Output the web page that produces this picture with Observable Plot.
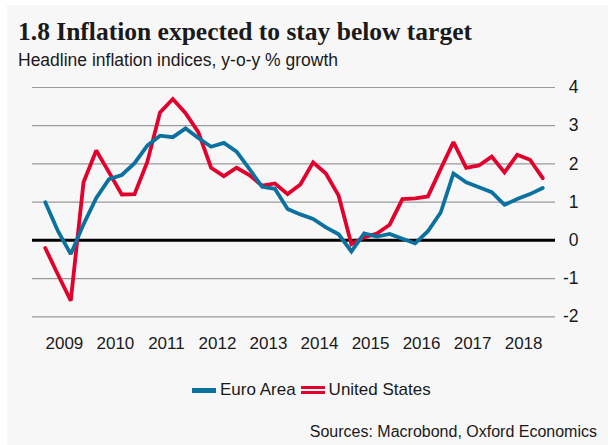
<!DOCTYPE html>
<html>
<head>
<meta charset="utf-8">
<script src="https://cdn.jsdelivr.net/npm/d3@7"></script>
<script src="https://cdn.jsdelivr.net/npm/@observablehq/plot@0.6"></script>
<style>
  html, body { margin: 0; padding: 0; background: #ffffff; }
  body { width: 608px; height: 445px; position: relative; overflow: hidden; font-family: "Liberation Sans", Arial, sans-serif; color: #1a1a1a; }
  #panel { position: absolute; left: 7px; top: 5px; right: 0; bottom: 0; background: #f7f7f7; }
  #title { position: absolute; left: 18px; top: 19px; font-family: "Liberation Serif", "DejaVu Serif", serif; font-weight: 700; font-size: 25.5px; line-height: 25.5px; white-space: nowrap; color: #1a1a1a; }
  #subtitle { position: absolute; left: 18px; top: 52px; font-size: 17.5px; line-height: 17.5px; white-space: nowrap; }
  #chart { position: absolute; left: 0; top: 75px; }
  #chart svg { overflow: visible; background: transparent; }
  #legend { position: absolute; left: 192px; top: 380px; height: 20px; display: flex; align-items: center; font-size: 17px; white-space: nowrap; }
  .sw { display: inline-block; width: 24px; margin-right: 4px; }
  .sw-blue { height: 5px; background: #0b72a0; }
  .sw-red { border-top: 3px solid #e2002d; border-bottom: 3px solid #e2002d; box-sizing: border-box; height: 8px; }
  #source { position: absolute; right: 11px; top: 423px; font-size: 16px; line-height: 18px; white-space: nowrap; }
</style>
</head>
<body>
<div id="panel"></div>
<div id="title">1.8 Inflation expected to stay below target</div>
<div id="subtitle">Headline inflation indices, y-o-y % growth</div>
<div id="chart"></div>
<div id="legend">
  <span class="sw sw-blue"></span><span>Euro Area</span>
  <span style="display:inline-block;width:5px"></span>
  <span class="sw sw-red"></span><span>United States</span>
</div>
<div id="source">Sources: Macrobond, Oxford Economics</div>
<script>
// Quarters (categories)
const quarters = [
  "2009Q1","2009Q2","2009Q3","2009Q4","2010Q1","2010Q2","2010Q3","2010Q4",
  "2011Q1","2011Q2","2011Q3","2011Q4","2012Q1","2012Q2","2012Q3","2012Q4",
  "2013Q1","2013Q2","2013Q3","2013Q4","2014Q1","2014Q2","2014Q3","2014Q4",
  "2015Q1","2015Q2","2015Q3","2015Q4","2016Q1","2016Q2","2016Q3","2016Q4",
  "2017Q1","2017Q2","2017Q3","2017Q4","2018Q1","2018Q2","2018Q3","2018Q4"
];
// Series values (% y-o-y)
const euroArea = [
  1.0, 0.24, -0.36, 0.42, 1.11, 1.6, 1.71, 2.02,
  2.48, 2.74, 2.7, 2.93, 2.68, 2.45, 2.55, 2.32,
  1.87, 1.4, 1.35, 0.82, 0.68, 0.56, 0.34, 0.16,
  -0.29, 0.18, 0.1, 0.17, 0.04, -0.08, 0.24, 0.73,
  1.75, 1.52, 1.39, 1.26, 0.93, 1.08, 1.21, 1.37
];
const unitedStates = [
  -0.2, -0.9, -1.58, 1.52, 2.35, 1.78, 1.2, 1.21,
  2.05, 3.35, 3.7, 3.33, 2.83, 1.9, 1.68, 1.9,
  1.71, 1.43, 1.49, 1.21, 1.46, 2.04, 1.75, 1.17,
  -0.1, 0.08, 0.18, 0.41, 1.08, 1.1, 1.15, 1.87,
  2.57, 1.9, 1.96, 2.19, 1.78, 2.24, 2.11, 1.63
];
// Tick labels
const yearLabels = [2009, 2010, 2011, 2012, 2013, 2014, 2015, 2016, 2017, 2018];
const yTicks = [-2, -1, 0, 1, 2, 3, 4];

const qPos = q => +q.slice(0, 4) + (+q.slice(5) - 1) / 4;
const euroData = quarters.map((q, i) => ({t: qPos(q), v: euroArea[i]}));
const usData = quarters.map((q, i) => ({t: qPos(q), v: unitedStates[i]}));

const BLUE = "#0b72a0";
const RED = "#e2002d";

const chart = Plot.plot({
  width: 608,
  height: 290,
  marginTop: 12,
  marginBottom: 48.7,
  marginLeft: 32,
  marginRight: 53,
  style: {background: "transparent", fontFamily: "'Liberation Sans', Arial, sans-serif", fontSize: "17px", color: "#1a1a1a"},
  x: {type: "linear", domain: [2008.75, 2019.0], axis: null},
  y: {domain: [-2, 4], axis: null},
  marks: [
    Plot.ruleY(yTicks.filter(d => d !== 0), {stroke: "#9a9a9a", strokeWidth: 1.2}),
    Plot.ruleY([0], {stroke: "#000000", strokeWidth: 3}),
    Plot.line(usData, {x: "t", y: "v", stroke: RED, strokeWidth: 3.8, strokeLinejoin: "miter", strokeMiterlimit: 2}),
    Plot.line(euroData, {x: "t", y: "v", stroke: BLUE, strokeWidth: 3.8, strokeLinejoin: "miter", strokeMiterlimit: 2}),
    Plot.text(yTicks, {y: d => d, text: d => String(d), frameAnchor: "right", textAnchor: "end", dx: 23, fill: "#1a1a1a", fontSize: 17.5}),
    Plot.text(yearLabels, {x: d => d + 0.375, text: d => String(d), frameAnchor: "bottom", lineAnchor: "middle", dy: 27, fill: "#1a1a1a", fontSize: 17})
  ]
});
document.getElementById("chart").appendChild(chart);
</script>
</body>
</html>
